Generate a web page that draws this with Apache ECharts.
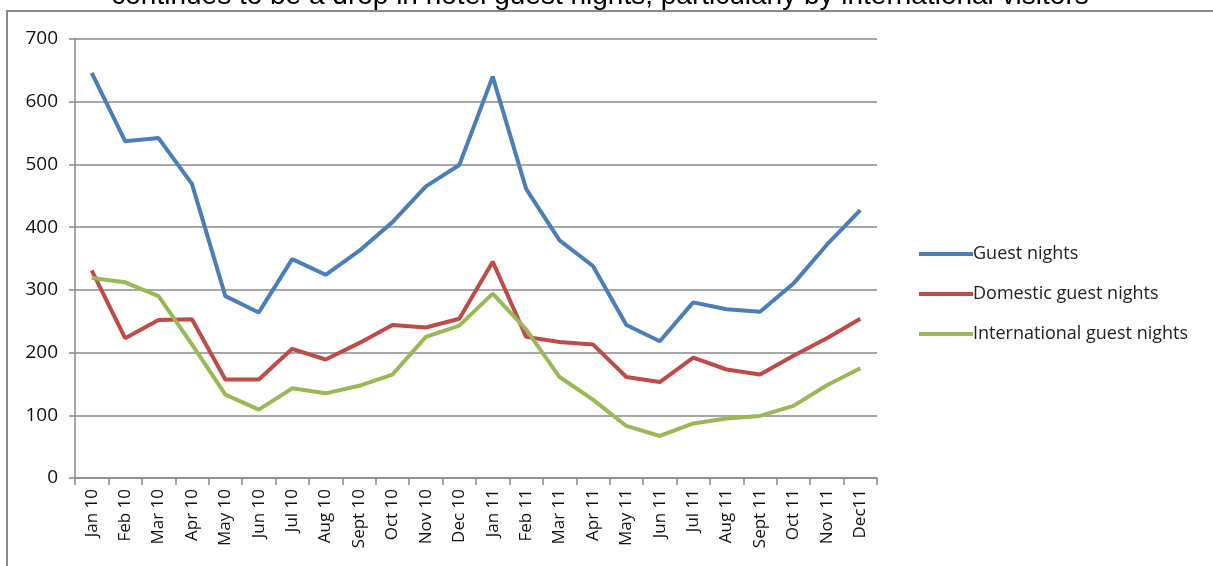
<!DOCTYPE html>
<html>
<head>
<meta charset="utf-8">
<script src="https://cdn.jsdelivr.net/npm/echarts@6/dist/echarts.min.js"></script>
<style>
  html, body { margin: 0; padding: 0; background: #fff; }
  #myChart { width: 1213px; height: 566px; }
</style>
</head>
<body>
<div id="myChart"></div>
<script>
// categories (months)
var months = ['Jan 10', 'Feb 10', 'Mar 10', 'Apr 10', 'May 10', 'Jun 10', 'Jul 10', 'Aug 10',
  'Sept 10', 'Oct 10', 'Nov 10', 'Dec 10', 'Jan 11', 'Feb 11', 'Mar 11', 'Apr 11',
  'May 11', 'Jun 11', 'Jul 11', 'Aug 11', 'Sept 11', 'Oct 11', 'Nov 11', 'Dec11']

// series values (thousands of nights)
var guestNights = [646, 537, 542, 469, 290, 264, 349, 324, 362, 408, 465, 499,
  640, 461, 379, 338, 244, 218, 280, 269, 265, 310, 372, 427]
var domesticNights = [331, 223, 252, 253, 157, 157, 206, 189, 215, 244, 240, 254,
  345, 225, 217, 213, 161, 153, 192, 173, 165, 195, 223, 254]
var internationalNights = [319, 312, 290, 213, 133, 109, 143, 135, 147, 165, 225, 243,
  294, 237, 161, 125, 83, 67, 87, 95, 99, 115, 148, 175]

var legendNames = ['Guest nights', 'Domestic guest nights', 'International guest nights']
var titleText = 'continues to be a drop in hotel guest nights, particularly by international visitors'

var myChart = echarts.init(document.getElementById('myChart'))

var labelFont = 'Open Sans, Liberation Sans, sans-serif'

function makeLine (name, data, color) {
  return {
    name: name,
    type: 'line',
    data: data,
    symbol: 'none',
    smooth: false,
    lineStyle: { color: color, width: 4 },
    itemStyle: { color: color }
  }
}

myChart.setOption({
  animation: false,
  graphic: [
    {
      type: 'rect',
      shape: { x: 7, y: 11, width: 1220, height: 600 },
      style: { fill: 'none', stroke: '#8a8a8a', lineWidth: 2 }
    },
    {
      type: 'text',
      x: 600,
      y: 10,
      style: {
        text: titleText,
        font: '28px "Liberation Sans", Arial, sans-serif',
        fill: '#000',
        textAlign: 'center',
        textVerticalAlign: 'bottom'
      }
    }
  ],
  legend: {
    orient: 'vertical',
    left: 914,
    top: 240,
    itemWidth: 54,
    itemHeight: 4,
    itemGap: 22,
    icon: 'rect',
    textStyle: { fontFamily: labelFont, fontSize: 18, color: '#222', padding: [0, 0, 0, -5] },
    data: legendNames
  },
  grid: {
    left: 75,
    right: 336,
    top: 39,
    bottom: 88,
    containLabel: false
  },
  xAxis: {
    type: 'category',
    boundaryGap: true,
    data: months,
    axisLine: { show: true, lineStyle: { color: '#8a8a8a', width: 1.5 } },
    axisTick: { show: true, length: 7, alignWithLabel: false, lineStyle: { color: '#8a8a8a', width: 1.5 } },
    axisLabel: {
      rotate: 90,
      interval: 0,
      margin: 11,
      fontFamily: labelFont,
      fontSize: 17,
      color: '#111'
    },
    splitLine: { show: false }
  },
  yAxis: {
    type: 'value',
    min: 0,
    max: 700,
    interval: 100,
    axisLine: { show: true, lineStyle: { color: '#8a8a8a', width: 1.5 } },
    axisTick: { show: true, length: 6, lineStyle: { color: '#8a8a8a', width: 1.5 } },
    axisLabel: {
      margin: 17,
      fontFamily: labelFont,
      fontSize: 19,
      color: '#111'
    },
    splitLine: { show: true, lineStyle: { color: '#8a8a8a', width: 1.5 } }
  },
  series: [
    makeLine(legendNames[0], guestNights, '#4a7ebb'),
    makeLine(legendNames[1], domesticNights, '#be4b48'),
    makeLine(legendNames[2], internationalNights, '#98b954')
  ]
})
</script>
</body>
</html>
